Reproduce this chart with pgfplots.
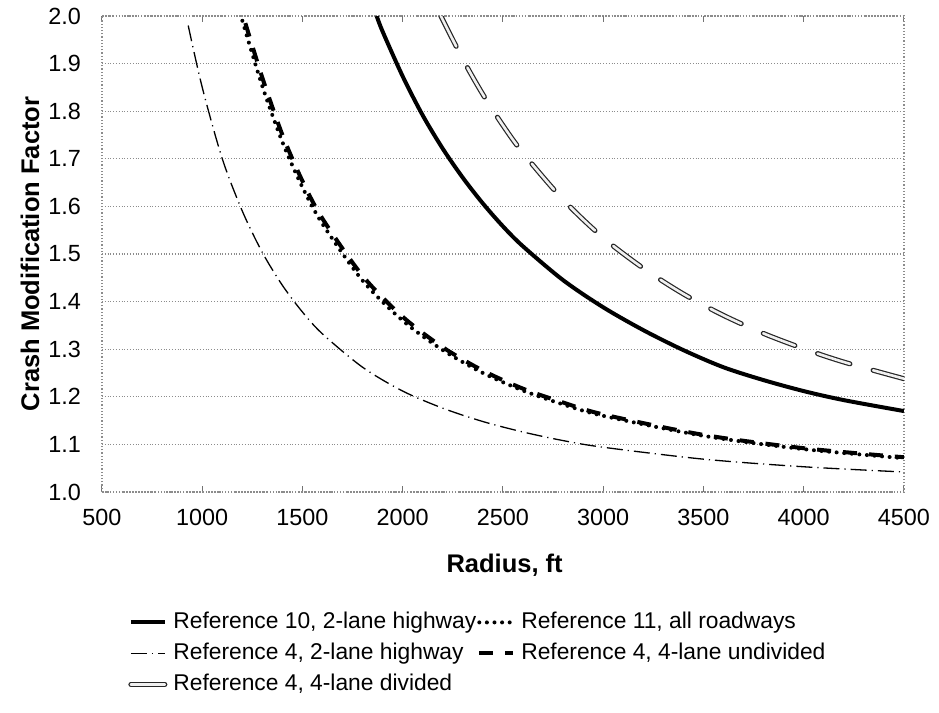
\documentclass[border=0pt]{standalone}
\usepackage{fontspec}
\setmainfont{Liberation Sans}
\usepackage{pgfplots}
\pgfplotsset{compat=1.18}

\begin{document}
\begin{tikzpicture}
\useasboundingbox (-51pt,-110.5pt) rectangle (418.5pt,246pt);
\begin{axis}[
    scale only axis,
    width=401pt, height=238pt,
    xmin=500, xmax=4500, ymin=1, ymax=2,
    xtick={500,1000,1500,2000,2500,3000,3500,4000,4500},
    ytick={1.0,1.1,1.2,1.3,1.4,1.5,1.6,1.7,1.8,1.9,2.0},
    ymajorgrids,
    major grid style={black!45, densely dotted, line width=0.6pt},
    axis line style={black!45, densely dotted, line width=0.6pt},
    tick align=inside,
    major tick length=3pt,
    xtick style={black!55, line width=0.5pt},
    ytick style={draw=none},
    /pgf/number format/assume math mode=true,
    xticklabel style={font=\fontsize{11.7}{14}\selectfont, yshift=-5pt, /pgf/number format/1000 sep={}},
    yticklabel style={font=\fontsize{11.7}{14}\selectfont, xshift=-7pt,
        /pgf/number format/.cd, fixed, fixed zerofill, precision=1},
    xlabel={\textbf{Radius, ft}},
    ylabel={\textbf{Crash Modification Factor}},
    xlabel style={font=\fontsize{12.75}{15}\selectfont, at={(axis description cs:0.502,-0.153)}, anchor=center},
    ylabel style={font=\fontsize{12.75}{15}\selectfont, at={(axis description cs:-0.0898,0.5)}, anchor=center},
    legend columns=2,
    legend style={at={(axis description cs:0.0324,-0.25)}, anchor=north west,
        draw=none, fill=none, inner sep=0pt, row sep=4.5pt, column sep=0pt,
        /tikz/every odd column/.append style={column sep=3pt},
        /tikz/every even column/.append style={column sep=0.5pt},
        font=\fontsize{11.4}{13.5}\selectfont,
        nodes={inner ysep=0pt, inner xsep=0pt, text height=8.5pt, text depth=2.5pt}},
    legend cell align=left,
    legend image code/.code={\draw[#1] (0pt,0pt) -- (17pt,0pt);},
]

% Reference 10, 2-lane highway
\addplot[black, line width=2pt, smooth] coordinates {
    (1870,2.000) (1900,1.967) (2000,1.873) (2100,1.791) (2200,1.721) (2300,1.660)
    (2400,1.606) (2500,1.558) (2600,1.516) (2800,1.445) (3000,1.388) (3200,1.340)
    (3400,1.298) (3600,1.262) (3800,1.235) (4000,1.212) (4200,1.193) (4500,1.170)
};
\addlegendentry{Reference 10, 2-lane highway}

% Reference 4, 4-lane undivided (drawn under the dotted one, legend entry added below)
\addplot[black, line width=2pt, dash pattern=on 7pt off 6pt, smooth, forget plot] coordinates {
    (1215,1.985) (1300,1.870) (1400,1.750) (1500,1.653) (1600,1.574) (1800,1.454)
    (2000,1.368) (2200,1.304) (2400,1.255) (2600,1.217) (2800,1.188) (3000,1.163)
    (3500,1.120) (4000,1.092) (4500,1.073)
};

% Reference 11, all roadways
\addplot[black, line width=2pt, line cap=round, dash pattern=on 0pt off 3.8pt, smooth] coordinates {
    (1200,1.990) (1300,1.852) (1400,1.735) (1500,1.640) (1600,1.563) (1800,1.444)
    (2000,1.360) (2200,1.298) (2400,1.250) (2600,1.213) (2800,1.184) (3000,1.160)
    (3500,1.118) (4000,1.090) (4500,1.071)
};
\addlegendentry{Reference 11, all roadways}

% Reference 4, 2-lane highway
\addplot[black, line width=0.65pt, dash pattern=on 8pt off 2.5pt on 0.6pt off 2.5pt, smooth] coordinates {
    (930,1.980) (1000,1.850) (1100,1.700) (1200,1.590) (1300,1.503) (1400,1.434)
    (1500,1.378) (1600,1.332) (1800,1.262) (2000,1.212) (2200,1.176) (2400,1.148)
    (2600,1.126) (2800,1.108) (3000,1.094) (3500,1.069) (4000,1.053) (4500,1.042)
};
\addlegendentry{Reference 4, 2-lane highway}

\addlegendimage{black, line width=2pt, dash pattern=on 7pt off 6pt}
\addlegendentry{Reference 4, 4-lane undivided}

% Reference 4, 4-lane divided
\addplot[black!85, line width=0.6pt, double=black!6, double distance=1.3pt,
         line cap=round, dash pattern=on 17pt off 12pt, smooth] coordinates {
    (2190,2.000) (2300,1.909) (2400,1.835) (2500,1.770) (2600,1.712) (2800,1.614)
    (3000,1.534) (3200,1.470) (3400,1.416) (3600,1.371) (3800,1.333) (4000,1.301)
    (4200,1.273) (4500,1.238)
};
\addlegendentry{Reference 4, 4-lane divided}

\end{axis}
\end{tikzpicture}
\end{document}
